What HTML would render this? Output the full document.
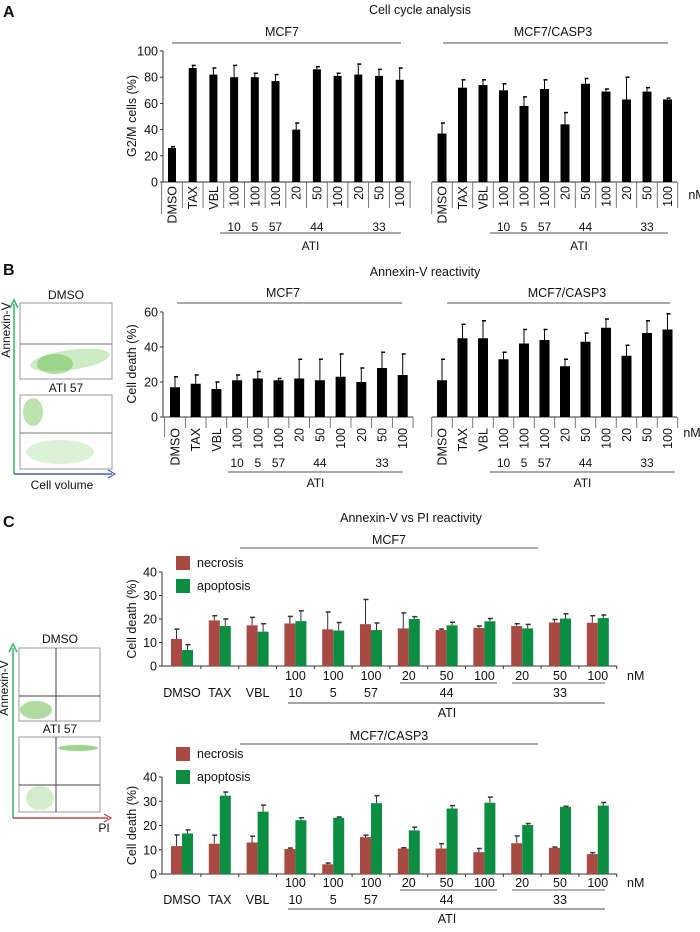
<!DOCTYPE html>
<html><head><meta charset="utf-8"><title>Figure</title>
<style>
html,body{margin:0;padding:0;background:#fff;}
svg{display:block;font-family:"Liberation Sans",Arial,sans-serif;}
</style></head>
<body>
<svg id="fig" width="700" height="932" viewBox="0 0 700 932" xmlns="http://www.w3.org/2000/svg"></svg>
<script>
// ---------- DATA ----------
const catsBar = ['DMSO','TAX','VBL','100','100','100','20','50','100','20','50','100'];
const subLabels = ['', '', '', '10', '5', '57', '', '44', '', '', '33', ''];
const ticksA = [0,20,40,60,80,100];
const ticksB = [0,20,40,60];
const ticksC = [0,10,20,30,40];
// Panel A: G2/M cells (%)
const aMcf7 = [26,87,82,80,80,77,40,86,81,82,81,78];
const aMcf7Err = [1,2,5,9,3,5,5,2,2,8,5,9];
const aCasp3 = [37,72,74,70,58,71,44,75,69,63,69,63];
const aCasp3Err = [8,6,4,5,7,7,9,4,2,17,3,1];
// Panel B: Annexin-V cell death (%)
const bMcf7 = [17,19,16,21,22,21,22,21,23,20,28,24];
const bMcf7Err = [6,5,4,3,4,1,11,12,13,8,9,12];
const bCasp3 = [21,45,45,33,42,44,29,43,51,35,48,50];
const bCasp3Err = [12,8,10,4,8,6,4,5,5,6,7,9];
// Panel C: necrosis / apoptosis
const cRow1 = ['','','','100','100','100','20','50','100','20','50','100'];
const cRow2 = ['DMSO','TAX','VBL','10','5','57','','44','','','33',''];
const cMcf7Nec = [11.5,19.4,17.3,18.1,15.6,17.8,16,15.3,16.2,17,18.5,18.4];
const cMcf7NecErr = [4.2,2,3.4,3,7.4,10.5,6.6,0.4,0.8,1,1.3,3];
const cMcf7Apo = [6.8,17,14.6,19.1,15.1,15.3,20,17.3,19,16,20.2,20.4];
const cMcf7ApoErr = [2.3,3,3.4,4.4,3.4,3,1,1.3,1.2,1.7,2,1.3];
const cCaspNec = [11.5,12.5,13,10.3,4,15.2,10.5,10.5,9,12.7,10.8,8.2];
const cCaspNecErr = [4.6,3.5,2.6,0.4,0.5,0.8,0.3,2,1.5,3,0.3,0.6];
const cCaspApo = [16.7,32.3,25.7,22.2,23.2,29.2,18,27,29.4,20.2,27.7,28.2];
const cCaspApoErr = [1.5,1.5,2.7,1,0.3,3.1,1.3,1.2,2.3,0.6,0.2,1.3];

// ---------- HELPERS ----------
const NS='http://www.w3.org/2000/svg';
const svg=document.getElementById('fig');
function el(tag,attrs,parent){const e=document.createElementNS(NS,tag);for(const k in attrs)e.setAttribute(k,attrs[k]);(parent||svg).appendChild(e);return e;}
function txt(s,x,y,size,opts,parent){const o=Object.assign({x:x,y:y,'font-size':size,fill:'#111'},opts||{});const t=el('text',o,parent);t.textContent=s;return t;}
function grp(name){const g=el('g',{});return g;}
function line(x1,y1,x2,y2,stroke,w,parent){return el('line',{x1:x1,y1:y1,x2:x2,y2:y2,stroke:stroke,'stroke-width':w},parent);}

// Single-series bar panel
function barPanel(name, vals, errs, x0, step, bw, yScale, y0, axisFrom, axisTo, sepBottom, firstSepBottom, labelTop, subY, atiLineY, atiLineX1, atiLineX2, atiY){
  const g=grp(name);
  line(axisFrom,y0,axisTo,y0,'#333',1,g);
  for(let i=0;i<=vals.length;i++){
    const sx = x0+(i-0.5)*step;
    line(sx,y0,sx,i===0?firstSepBottom:sepBottom,'#555',0.8,g);
  }
  for(let i=0;i<vals.length;i++){
    const cx=x0+i*step;
    const top=yScale(vals[i]);
    const et=yScale(vals[i]+errs[i]);
    const b=el('rect',{x:cx-bw/2,y:top,width:bw,height:y0-top,fill:'#000'},g);
    
    
    line(cx,top,cx,et,'#000',1,g);
    line(cx-1,et,cx+3,et,'#000',1.5,g);
    const t=txt(catsBar[i],0,0,12.5,{transform:'translate('+(cx+4.5)+','+labelTop+') rotate(-90)','text-anchor':'end'},g);
    
    
    if(subLabels[i]){txt(subLabels[i],cx,subY,12,{'text-anchor':'middle'},g);}
  }
  line(atiLineX1,atiLineY,atiLineX2,atiLineY,'#777',1.2,g);
  txt('ATI',(atiLineX1+atiLineX2)/2,atiY,12,{'text-anchor':'middle'},g);
  return g;
}
function yAxis(name,x,ticks,yScale,top,bottom,labelX){
  const g=grp(name);
  line(x,top,x,bottom,'#333',1,g);
  ticks.forEach(v=>{const y=yScale(v);line(x-3,y,x,y,'#333',1,g);txt(String(v),x-5,y+4.5,12.5,{'text-anchor':'end'},g);});
  return g;
}
function headerLine(name,label,cx,ty,lx1,lx2,ly,size){
  const g=grp(name);
  txt(label,cx,ty,size||12.5,{'text-anchor':'middle'},g);
  line(lx1,ly,lx2,ly,'#777',1.2,g);
}

// ---------- PANEL A ----------
txt('A',3,17,16,{'font-weight':'bold'});
txt('Cell cycle analysis',420,14,12.5,{'text-anchor':'middle'});
headerLine('header-mcf7-a','MCF7',282,36,172,401,43);
headerLine('header-casp3-a','MCF7/CASP3',553,36,443,668,43);
const yA=v=>182-v*1.31;
yAxis('y-axis-a',163,ticksA,yA,51,182);
txt('G2/M cells (%)',0,0,12.5,{transform:'translate(136,116) rotate(-90)','text-anchor':'middle'});
barPanel('bars-a-mcf7',aMcf7,aMcf7Err,172,20.7,8,yA,182,163,411,208,214,186,231,233,220,401,250);
barPanel('bars-a-casp3',aCasp3,aCasp3Err,442,20.5,9,yA,182,432,677,208,214,186,231,233,490,668,250);
txt('nM',697,199,12.5,{'text-anchor':'middle'});

// ---------- PANEL B ----------
txt('B',3,275,16,{'font-weight':'bold'});
txt('Annexin-V reactivity',425,276,12.5,{'text-anchor':'middle'});
headerLine('header-mcf7-b','MCF7',283,297,177,402,303);
headerLine('header-casp3-b','MCF7/CASP3',567,297,447,670,303);
const yB=v=>417-v*1.75;
yAxis('y-axis-b',163,ticksB,yB,312,417);
txt('Cell death (%)',0,0,12.5,{transform:'translate(136,364) rotate(-90)','text-anchor':'middle'});
barPanel('bars-b-mcf7',bMcf7,bMcf7Err,175,20.7,10,yB,417,163,413,428,437,428,467,472,228,403,487);
barPanel('bars-b-casp3',bCasp3,bCasp3Err,442,20.5,10,yB,417,432,677,428,437,428,467,472,490,675,487);
txt('nM',692,437,12.5,{'text-anchor':'middle'});

// Flow plots B
(function(){
  const g=grp('flow-plots-b');
  txt('DMSO',66,299,12,{'text-anchor':'middle'},g);
  el('rect',{x:20,y:303,width:92,height:76,fill:'#fff',stroke:'#999','stroke-width':1},g);
  el('ellipse',{cx:70,cy:360,rx:40,ry:10,fill:'#8fd07a','fill-opacity':0.45,transform:'rotate(-8 70 360)'},g);
  el('ellipse',{cx:55,cy:364,rx:18,ry:10,fill:'#6cc050','fill-opacity':0.5},g);
  line(20,344,112,344,'#777',1,g);
  txt('ATI 57',66,392,12,{'text-anchor':'middle'},g);
  el('rect',{x:20,y:395,width:92,height:74,fill:'#fff',stroke:'#999','stroke-width':1},g);
  el('ellipse',{cx:33,cy:412,rx:10,ry:14,fill:'#7cc860','fill-opacity':0.5},g);
  el('ellipse',{cx:60,cy:452,rx:34,ry:12,fill:'#a8dc95','fill-opacity':0.4},g);
  line(20,433,112,433,'#777',1,g);
  line(14,474,14,304,'#3bb36a',1.5,g);
  el('path',{d:'M10,308 L14,300 L18,308',fill:'none',stroke:'#3bb36a','stroke-width':1.5},g);
  line(14,474,112,474,'#4a5fc8',1.5,g);
  el('path',{d:'M108,470 L115,474 L108,478',fill:'none',stroke:'#4a5fc8','stroke-width':1.2},g);
  txt('Annexin-V',0,0,12,{transform:'translate(10,330) rotate(-90)','text-anchor':'middle'},g);
  txt('Cell volume',62,489,12,{'text-anchor':'middle'},g);
})();

// ---------- PANEL C ----------
txt('C',3,527,16,{'font-weight':'bold'});
txt('Annexin-V vs PI reactivity',411,522,12.5,{'text-anchor':'middle'});

function pairPanel(name,title,titleY,lineY,nec,necErr,apo,apoErr,y0,yTop,legY,rowY1,rowY2,lineY44,atiLineY,atiY){
  const g=grp(name);
  txt(title,389,titleY,12.5,{'text-anchor':'middle'},g);
  line(240,lineY,538,lineY,'#777',1.2,g);
  const ys=v=>y0-(y0-yTop)*v/40;
  line(162,yTop,162,y0,'#333',1,g);
  ticksC.forEach(v=>{const y=ys(v);line(159,y,162,y,'#333',1,g);txt(String(v),157,y+4.5,12.5,{'text-anchor':'end'},g);});
  txt('Cell death (%)',0,0,12.5,{transform:'translate(136,'+((y0+yTop)/2)+') rotate(-90)','text-anchor':'middle'},g);
  const x0=182, step=37.8, bw=11;
  line(162,y0,x0+11.5*step,y0,'#333',1,g);
  for(let i=1;i<=12;i++){const sx=x0+(i-0.5)*step;line(sx,y0,sx,y0+3,'#333',1,g);}
  for(let i=0;i<nec.length;i++){
    const cx=x0+i*step;
    const pairs=[[nec[i],necErr[i],cx-bw,'#a84a42','necrosis-bar'],[apo[i],apoErr[i],cx,'#0b8e41','apoptosis-bar']];
    pairs.forEach(p=>{
      const top=ys(p[0]), et=ys(p[0]+p[1]);
      const b=el('rect',{x:p[2],y:top,width:bw,height:y0-top,fill:p[3]},g);
      
      
      const mx=p[2]+bw/2;
      line(mx,top,mx,et,'#333',1,g);
      line(mx-2,et,mx+3,et,'#333',1.5,g);
    });
    if(cRow1[i]) txt(cRow1[i],cx,rowY1,12.5,{'text-anchor':'middle'},g);
    if(cRow2[i]) txt(cRow2[i],cx,rowY2,12.5,{'text-anchor':'middle'},g);
  }
  txt('nM',627,rowY1,12.5,{'text-anchor':'start'},g);
  line(400,lineY44,497,lineY44,'#777',1.2,g);
  line(512,lineY44,605,lineY44,'#999',1.5,g);
  line(288,atiLineY,605,atiLineY,'#888',1.5,g);
  txt('ATI',447,atiY,12.5,{'text-anchor':'middle'},g);
  // legend
  const lg=grp('legend-'+name);
  g.appendChild(lg);
  const r1=el('rect',{x:176,y:legY,width:14,height:14,fill:'#a84a42'},lg);
  
  
  txt('necrosis',197,legY+11,12.5,{},lg);
  const r2=el('rect',{x:176,y:legY+23,width:14,height:14,fill:'#0b8e41'},lg);
  
  
  txt('apoptosis',197,legY+34,12.5,{},lg);
}
pairPanel('chart-c-mcf7','MCF7',544,548,cMcf7Nec,cMcf7NecErr,cMcf7Apo,cMcf7ApoErr,666,572,556,680,697,683,703,717);
pairPanel('chart-c-casp3','MCF7/CASP3',740,744,cCaspNec,cCaspNecErr,cCaspApo,cCaspApoErr,874,777,747,887,904,890,909,923);

// Flow plots C
(function(){
  const g=grp('flow-plots-c');
  txt('DMSO',60,643,12,{'text-anchor':'middle'},g);
  el('rect',{x:19,y:648,width:81,height:73,fill:'#fff',stroke:'#999','stroke-width':1},g);
  el('ellipse',{cx:36,cy:710,rx:16,ry:9,fill:'#6cc050','fill-opacity':0.55},g);
  line(56,648,56,721,'#444',1,g);
  line(19,696,100,696,'#444',1,g);
  txt('ATI 57',60,733,12,{'text-anchor':'middle'},g);
  el('rect',{x:19,y:737,width:81,height:75,fill:'#fff',stroke:'#999','stroke-width':1},g);
  el('ellipse',{cx:78,cy:748,rx:20,ry:3,fill:'#5cb840','fill-opacity':0.6},g);
  el('ellipse',{cx:40,cy:798,rx:14,ry:12,fill:'#a8dc95','fill-opacity':0.5},g);
  line(56,737,56,812,'#444',1,g);
  line(19,785,100,785,'#444',1,g);
  line(13,818,13,648,'#3bb36a',1.5,g);
  el('path',{d:'M9,652 L13,644 L17,652',fill:'none',stroke:'#3bb36a','stroke-width':1.5},g);
  line(13,818,108,818,'#c0484a',1.5,g);
  el('path',{d:'M104,814 L111,818 L104,822',fill:'none',stroke:'#c0484a','stroke-width':1.2},g);
  txt('Annexin-V',0,0,12,{transform:'translate(8,688) rotate(-90)','text-anchor':'middle'},g);
  txt('PI',104,832,12,{'text-anchor':'middle'},g);
})();
</script>
</body></html>
